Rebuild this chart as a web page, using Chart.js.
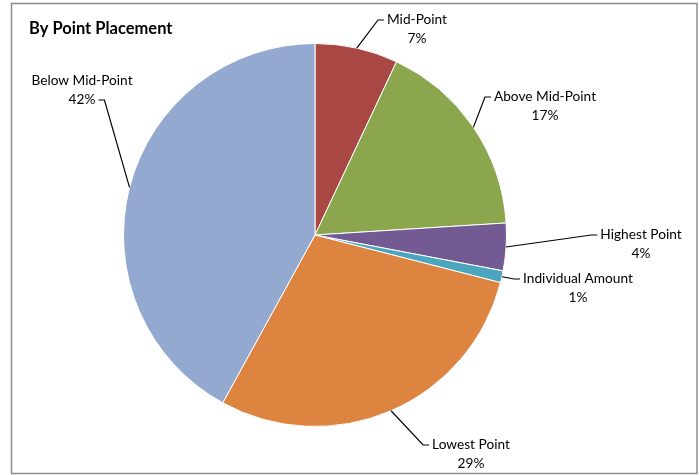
<!DOCTYPE html>
<html>
<head>
<meta charset="utf-8">
<script src="https://cdn.jsdelivr.net/npm/chart.js@4"></script>
<style>
  html, body { margin: 0; padding: 0; background: #fff; }
  #wrap { width: 699px; height: 475px; position: relative; }
</style>
</head>
<body>
<div id="wrap"><canvas id="placementChart"></canvas></div>
<script>
// Share of records by point placement
var categories = ['Mid-Point', 'Above Mid-Point', 'Highest Point', 'Individual Amount', 'Lowest Point', 'Below Mid-Point'];
var shares = [7, 17, 4, 1, 29, 42];
var sliceColors = ['#A94745', '#8BA64D', '#735A93', '#4BA5BF', '#DD8440', '#94A9D0'];

// where each callout's text block sits (centre of the name line) and which side the leader enters from
var calloutSpots = [
    { x: 417, y: 20, side: 'left' },
    { x: 545, y: 97, side: 'left' },
    { x: 641, y: 235, side: 'left' },
    { x: 578, y: 279, side: 'left' },
    { x: 471, y: 445, side: 'left' },
    { x: 82, y: 81, side: 'right' }
];

var FONT = '13.7px Lato, "Open Sans", sans-serif';

// frame, title and leader-line callouts
var calloutPlugin = {
    id: 'callouts',
    afterDraw: function (chart) {
        var ctx = chart.ctx;
        ctx.save();

        // outer frame
        ctx.strokeStyle = '#8c8c8c';
        ctx.lineWidth = 1.5;
        ctx.strokeRect(11.5, 3.5, 685.5, 470);

        // title
        ctx.fillStyle = '#000';
        ctx.font = 'bold 16.5px Lato, "Open Sans", sans-serif';
        ctx.textAlign = 'left';
        ctx.textBaseline = 'middle';
        ctx.fillText('By Point Placement', 29, 29);

        var arcs = chart.getDatasetMeta(0).data;
        ctx.font = FONT;
        ctx.textAlign = 'center';
        ctx.textBaseline = 'middle';
        ctx.lineWidth = 1.2;
        ctx.strokeStyle = '#000';

        arcs.forEach(function (arc, i) {
            var p = arc.getProps(['x', 'y', 'startAngle', 'endAngle', 'outerRadius'], true);
            var mid = (p.startAngle + p.endAngle) / 2;
            var ex = p.x + Math.cos(mid) * p.outerRadius;
            var ey = p.y + Math.sin(mid) * p.outerRadius;

            var spot = calloutSpots[i];
            var name = categories[i];
            var pct = shares[i] + '%';
            var w = ctx.measureText(name).width;

            var lx, ly;
            if (spot.side === 'left') {
                lx = spot.x - w / 2 - 3;
            } else {
                lx = spot.x + w / 2 + 3;
            }
            ly = spot.y;
            if (i === 5) {
                // the left callout hooks from the percent line
                lx = spot.x + ctx.measureText(pct).width / 2 + 3;
                ly = spot.y + 19;
            }
            var kx = spot.side === 'left' ? lx - 6 : lx + 6;

            ctx.beginPath();
            ctx.moveTo(lx, ly);
            ctx.lineTo(kx, ly);
            ctx.lineTo(ex, ey);
            ctx.stroke();

            ctx.fillStyle = '#000';
            ctx.fillText(name, spot.x, spot.y);
            ctx.fillText(pct, spot.x, spot.y + 19);
        });

        ctx.restore();
    }
};

new Chart(document.getElementById('placementChart'), {
    type: 'pie',
    data: {
        labels: categories,
        datasets: [{
            data: shares,
            backgroundColor: sliceColors,
            borderColor: '#ffffff',
            borderWidth: 1
        }]
    },
    options: {
        responsive: true,
        maintainAspectRatio: false,
        animation: false,
        layout: {
            padding: { left: 123, right: 192, top: 43, bottom: 48 }
        },
        plugins: {
            legend: { display: false },
            tooltip: { enabled: false }
        }
    },
    plugins: [calloutPlugin]
});
</script>
</body>
</html>
